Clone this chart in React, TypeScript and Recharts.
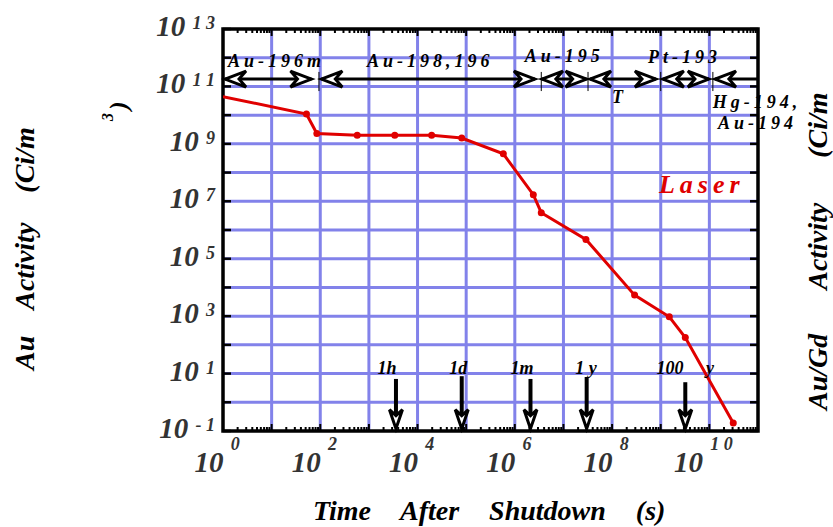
import React from "react";
import {
  Line,
  LineChart,
  ReferenceArea,
  ReferenceDot,
  ReferenceLine,
  XAxis,
  YAxis,
} from "recharts";

// Laser case: Au activity after shutdown
const TIME_S = [1, 52, 85, 575, 3400, 19500, 81000, 5.8e5, 2.4e6, 3.5e6, 2.9e7, 2.9e8, 1.5e9, 3.2e9, 3.1e10];
const ACTIVITY = [4.4e10, 1.1e10, 2.3e9, 2.0e9, 2.0e9, 2.0e9, 1.6e9, 4.5e8, 1.7e7, 4.0e6, 4.7e5, 5.4e3, 950, 180, 0.19];

const X_DECADES = [0, 1, 2, 3, 4, 5, 6, 7, 8, 9, 10, 11];
const Y_DECADES = [-1, 0, 1, 2, 3, 4, 5, 6, 7, 8, 9, 10, 11, 12, 13];
const MINOR = [2, 3, 4, 5, 6, 7, 8, 9];

// dominant nuclide periods (arrows along the top)
const BAND_ROW = 1.8e11;
const BANDS = [
  { from: 1.1, to: 66, left: true, right: true },
  { from: 105, to: 2.6e6, left: true, right: true },
  { from: 3.6e6, to: 3.0e7, left: true, right: true },
  { from: 3.5e7, to: 8e8, left: true, right: true },
  { from: 1.1e9, to: 9.8e9, left: true, right: true },
  { from: 1.3e10, to: 1e11, left: true, right: false },
];
const BAND_BREAKS = [94, 3.5e6, 3.2e7, 1e9, 1.18e10];
const BREAK_TOP = 3.2e11;
const BREAK_BOTTOM = 6.9e10;

const BAND_LABELS = [
  { text: "Au-196m", x: 1.27, y: 4.6e11 },
  { text: "Au-198,196", x: 912, y: 4.6e11 },
  { text: "Au-195", x: 1.6e6, y: 7.1e11 },
  { text: "T", x: 1e8, y: 2.6e10 },
  { text: "Pt-193", x: 5.5e8, y: 6.3e11 },
  { text: "Hg-194,", x: 1.18e10, y: 1.8e10 },
  { text: "Au-194", x: 1.5e10, y: 3.3e9 },
];

// time markers along the bottom
const MARKER_TIP = 0.12;
const MARKERS = [
  { at: 3600, top: 6.5 },
  { at: 81000, top: 8.1 },
  { at: 2.1e6, top: 6.5 },
  { at: 3.0e7, top: 7.6 },
  { at: 3.2e9, top: 5.0 },
];
const MARKER_ROW = 9.5;
const MARKER_LABELS = [
  { text: "1h", x: 2350 },
  { text: "1d", x: 6.9e4 },
  { text: "1m", x: 1.4e6 },
  { text: "1 y", x: 2.9e7 },
  { text: "100", x: 1.55e9 },
  { text: "y", x: 1.03e10 },
];

const LASER_LABEL = { x: 9.2e8, y: 1.9e7 };

const W = 833;
const H = 527;
const MARGIN = { top: 29, right: 75, bottom: 56, left: 0 };
const Y_AXIS_W = 223;
const X_AXIS_H = 40;
const PLOT_W = W - MARGIN.left - MARGIN.right - Y_AXIS_W;
const PLOT_H = H - MARGIN.top - MARGIN.bottom - X_AXIS_H;

const GRID = "#8282ea";
const RED = "#e00000";
const FONT = "'Liberation Serif', 'DejaVu Serif', serif";
const TICK_TEXT = "#333";

const data = TIME_S.map((t, i) => ({ t, a: ACTIVITY[i] }));
const xTicks = X_DECADES.flatMap((d) =>
  d < 11 ? [10 ** d, ...MINOR.map((m) => m * 10 ** d)] : [10 ** d]
);
const yTicks = Y_DECADES.map((d) => 10 ** d);

const spaced = (e: number) => String(e).split("").join(" ");

function XTick(props: any) {
  const { x, y, payload } = props;
  const lg = Math.log10(payload.value);
  const e = Math.round(lg);
  const major = Math.abs(lg - e) < 1e-6;
  const len = major ? 7 : 4;
  const top = y - PLOT_H;
  return (
    <g>
      <line x1={x} x2={x} y1={y} y2={y - len} stroke="#000" strokeWidth={2} />
      <line x1={x} x2={x} y1={top} y2={top + len} stroke="#000" strokeWidth={2} />
      {major && e % 2 === 0 && e <= 10 ? (
        <text
          x={x - 6}
          y={y + 41}
          textAnchor="middle"
          fontFamily={FONT}
          fontWeight="bold"
          fontStyle="italic"
          fontSize={29}
          fill={TICK_TEXT}
        >
          10{" "}
          <tspan fontSize={18} dy={-22}>
            {spaced(e)}
          </tspan>
        </text>
      ) : null}
    </g>
  );
}

function YTick(props: any) {
  const { x, y, payload } = props;
  const e = Math.round(Math.log10(payload.value));
  return (
    <g>
      <line x1={x} x2={x + 8} y1={y} y2={y} stroke="#000" strokeWidth={2.5} />
      <line x1={x + PLOT_W - 8} x2={x + PLOT_W} y1={y} y2={y} stroke="#000" strokeWidth={2.5} />
      {Math.abs(e % 2) === 1 ? (
        <text
          x={x - 8}
          y={y + 7}
          textAnchor="end"
          fontFamily={FONT}
          fontWeight="bold"
          fontStyle="italic"
          fontSize={29}
          fill={TICK_TEXT}
        >
          10{" "}
          <tspan fontSize={18} dy={-7}>
            {spaced(e)}
          </tspan>
        </text>
      ) : null}
    </g>
  );
}

const hHead = (tx: number, y: number, dir: number) => (
  <path
    d={`M${tx},${y} L${tx - dir * 21},${y - 8} L${tx - dir * 14},${y} L${tx - dir * 21},${y + 8} Z`}
    fill="#fff"
    stroke="#000"
    strokeWidth={3}
  />
);

const bandShape = (left: boolean, right: boolean) => (p: any) => (
  <g>
    <line x1={p.x1} x2={p.x2} y1={p.y1} y2={p.y2} stroke="#000" strokeWidth={3} />
    {left ? hHead(p.x1, p.y1, -1) : null}
    {right ? hHead(p.x2, p.y2, 1) : null}
  </g>
);

const markerShape = (p: any) => {
  const tipY = Math.max(p.y1, p.y2);
  const topY = Math.min(p.y1, p.y2);
  const x = p.x1;
  return (
    <g>
      <line x1={x} x2={x} y1={topY} y2={tipY - 10} stroke="#000" strokeWidth={4} />
      <path
        d={`M${x},${tipY} L${x - 6.5},${tipY - 19} L${x},${tipY - 13} L${x + 6.5},${tipY - 19} Z`}
        fill="#fff"
        stroke="#000"
        strokeWidth={3}
      />
    </g>
  );
};

const textShape =
  (text: string, opts: { size: number; spacing: number; color?: string; anchor?: string }) =>
  (p: any) => (
    <text
      x={p.cx}
      y={p.cy}
      textAnchor={opts.anchor || "start"}
      fontFamily={FONT}
      fontWeight="bold"
      fontStyle="italic"
      fontSize={opts.size}
      letterSpacing={opts.spacing}
      fill={opts.color || "#000"}
    >
      {text}
    </text>
  );

const titleStyle = {
  fontFamily: FONT,
  fontWeight: "bold" as const,
  fontStyle: "italic" as const,
  fontSize: 28,
  fill: "#000",
};

export default function App() {
  return (
    <div style={{ position: "absolute", left: 0, top: 0, width: W, height: H, background: "#fff" }}>
      <LineChart width={W} height={H} data={data} margin={MARGIN}>
        <XAxis
          dataKey="t"
          type="number"
          scale="log"
          domain={[1, 1e11]}
          allowDataOverflow
          ticks={xTicks}
          interval={0}
          tickSize={0}
          tickMargin={0}
          axisLine={false}
          tickLine={false}
          height={X_AXIS_H}
          tick={<XTick />}
        />
        <YAxis
          type="number"
          scale="log"
          domain={[0.1, 1e13]}
          allowDataOverflow
          ticks={yTicks}
          interval={0}
          tickSize={0}
          tickMargin={0}
          axisLine={false}
          tickLine={false}
          width={Y_AXIS_W}
          tick={<YTick />}
        />

        {X_DECADES.slice(1, -1).map((d) => (
          <ReferenceLine key={`gx${d}`} x={10 ** d} stroke={GRID} strokeWidth={3} zIndex={-100} />
        ))}
        {Y_DECADES.slice(1, -1).map((d) => (
          <ReferenceLine key={`gy${d}`} y={10 ** d} stroke={GRID} strokeWidth={3} zIndex={-100} />
        ))}

        <ReferenceArea
          x1={1}
          x2={1e11}
          y1={0.1}
          y2={1e13}
          fill="none"
          stroke="#000"
          strokeWidth={3.5}
          ifOverflow="visible"
        />

        <Line
          dataKey="a"
          type="linear"
          stroke={RED}
          strokeWidth={3}
          isAnimationActive={false}
          dot={(p: any) =>
            p.index === 0 ? (
              <g key={`d${p.index}`} />
            ) : (
              <circle key={`d${p.index}`} cx={p.cx} cy={p.cy} r={3.5} fill={RED} stroke="none" />
            )
          }
          activeDot={false}
        />

        {BANDS.map((b, i) => (
          <ReferenceLine
            key={`band${i}`}
            segment={[
              { x: b.from, y: BAND_ROW },
              { x: b.to, y: BAND_ROW },
            ]}
            ifOverflow="visible"
            shape={bandShape(b.left, b.right)}
          />
        ))}
        {BAND_BREAKS.map((x, i) => (
          <ReferenceLine
            key={`brk${i}`}
            segment={[
              { x, y: BREAK_TOP },
              { x, y: BREAK_BOTTOM },
            ]}
            stroke="#000"
            strokeWidth={1}
            ifOverflow="visible"
          />
        ))}
        {BAND_LABELS.map((l, i) => (
          <ReferenceDot
            key={`bl${i}`}
            x={l.x}
            y={l.y}
            r={0}
            ifOverflow="visible"
            shape={textShape(l.text, { size: 18, spacing: 4 })}
          />
        ))}

        {MARKERS.map((m, i) => (
          <ReferenceLine
            key={`mk${i}`}
            segment={[
              { x: m.at, y: m.top },
              { x: m.at, y: MARKER_TIP },
            ]}
            ifOverflow="visible"
            shape={markerShape}
          />
        ))}
        {MARKER_LABELS.map((l, i) => (
          <ReferenceDot
            key={`ml${i}`}
            x={l.x}
            y={MARKER_ROW}
            r={0}
            ifOverflow="visible"
            shape={textShape(l.text, { size: 18, spacing: 0, anchor: "middle" })}
          />
        ))}

        <ReferenceDot
          x={LASER_LABEL.x}
          y={LASER_LABEL.y}
          r={0}
          ifOverflow="visible"
          shape={textShape("Laser", { size: 26, spacing: 5, color: RED })}
        />
      </LineChart>

      <svg
        width={W}
        height={H}
        style={{ position: "absolute", left: 0, top: 0, pointerEvents: "none" }}
      >
        <text x={313} y={520} style={titleStyle} wordSpacing={23}>
          Time After Shutdown (s)
        </text>
        <text transform="translate(34,370) rotate(-90)" style={titleStyle}>
          Au
          <tspan dx={26}>Activity</tspan>
          <tspan dx={30}>(Ci/m</tspan>
        </text>
        <text transform="translate(113,121) rotate(-90)" style={{ ...titleStyle, fontSize: 16 }}>
          3
        </text>
        <text transform="translate(127,110) rotate(-90)" style={{ ...titleStyle, fontSize: 26 }}>
          )
        </text>
        <text transform="translate(827,410) rotate(-90)" style={titleStyle} wordSpacing={38}>
          Au/Gd Activity (Ci/m
        </text>
      </svg>
    </div>
  );
}
